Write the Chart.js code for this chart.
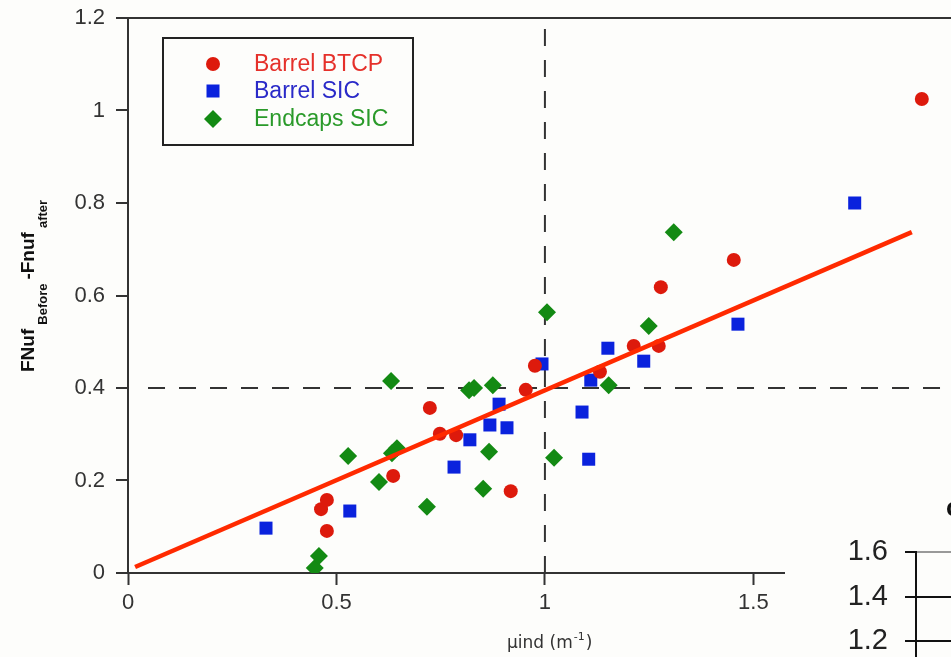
<!DOCTYPE html>
<html>
<head>
<meta charset="utf-8">
<script src="https://cdn.jsdelivr.net/npm/chart.js@4.4.0/dist/chart.umd.min.js"></script>
<style>
  html, body { margin: 0; padding: 0; background: #fdfdfb; overflow: hidden; }
  #wrap { position: relative; width: 951px; height: 657px; overflow: hidden; }
  #main { position: absolute; left: 0; top: 0; }
  #panelC { position: absolute; left: 785px; top: 480px; background: #fdfdfb; }
</style>
</head>
<body>
<div id="wrap">
  <canvas id="main" width="951" height="657"></canvas>
  <canvas id="panelC" width="400" height="260"></canvas>
</div>
<script>
// values
const btcpX = [0.463, 0.477, 0.477, 0.636, 0.724, 0.748, 0.787, 0.918, 0.954, 0.976, 1.132, 1.213, 1.273, 1.278, 1.453, 1.904]
const btcpY = [0.138, 0.158, 0.091, 0.210, 0.357, 0.301, 0.298, 0.177, 0.396, 0.448, 0.435, 0.491, 0.491, 0.618, 0.677, 1.025]

const sicX = [0.331, 0.532, 0.782, 0.820, 0.868, 0.890, 0.909, 0.993, 1.089, 1.105, 1.110, 1.151, 1.237, 1.463, 1.743]
const sicY = [0.097, 0.134, 0.229, 0.288, 0.320, 0.365, 0.314, 0.452, 0.348, 0.246, 0.417, 0.486, 0.458, 0.538, 0.800]

const endX = [0.448, 0.458, 0.528, 0.602, 0.631, 0.633, 0.645, 0.717, 0.818, 0.830, 0.852, 0.866, 0.875, 1.005, 1.022, 1.153, 1.249, 1.309]
const endY = [0.011, 0.037, 0.253, 0.197, 0.415, 0.259, 0.270, 0.143, 0.395, 0.400, 0.182, 0.262, 0.406, 0.564, 0.249, 0.406, 0.534, 0.737]

// fitted line end points
const fitX = [0.017, 1.88]
const fitY = [0.013, 0.737]

// dashed reference lines
const refX = 1
const refY = 0.4

const xTicks = [0, 0.5, 1, 1.5]
const yTicks = [0, 0.2, 0.4, 0.6, 0.8, 1, 1.2]
const panelCTicks = [1.2, 1.4, 1.6]

const X_MAX = 1.974
const FONT = '"Liberation Sans", Arial, sans-serif'

const toPts = (xs, ys) => xs.map((x, i) => ({ x: x, y: ys[i] }))

// keep chart area where we put it
const noPad = s => { s.paddingTop = 0; s.paddingBottom = 0; s.paddingLeft = 0; s.paddingRight = 0 }

// legend box + axis titles
const decor = {
  id: 'decor',
  afterDraw(chart) {
    const ctx = chart.ctx
    ctx.save()

    // legend
    ctx.lineWidth = 2
    ctx.strokeStyle = '#222'
    ctx.strokeRect(163, 38, 250, 107)
    const rows = [64, 91, 119]
    const items = chart.data.datasets.filter(d => d.inLegend)
    items.forEach((d, i) => {
      const y = rows[i]
      const x = 213
      ctx.fillStyle = d.backgroundColor
      ctx.beginPath()
      if (d.pointStyle === 'circle') {
        ctx.arc(x, y, 7, 0, Math.PI * 2)
      } else if (d.pointStyle === 'rect') {
        ctx.rect(x - 6.5, y - 6.5, 13, 13)
      } else {
        ctx.moveTo(x - 9, y); ctx.lineTo(x, y - 9); ctx.lineTo(x + 9, y); ctx.lineTo(x, y + 9); ctx.closePath()
      }
      ctx.fill()
      ctx.fillStyle = d.legendColor
      ctx.font = '23px ' + FONT
      ctx.textBaseline = 'middle'
      ctx.textAlign = 'left'
      ctx.fillText(d.label, 254, y + 1)
    })

    // x title
    ctx.fillStyle = '#333'
    ctx.textBaseline = 'alphabetic'
    ctx.font = '17px "DejaVu Sans", sans-serif'
    let xx = 507
    ctx.fillText('µind (m', xx, 648)
    xx += ctx.measureText('µind (m').width
    ctx.font = '11px "DejaVu Sans", sans-serif'
    ctx.fillText('-1', xx + 1, 640)
    xx += ctx.measureText('-1').width + 2
    ctx.font = '17px "DejaVu Sans", sans-serif'
    ctx.fillText(')', xx, 648)

    // y title, rotated
    ctx.translate(34, 372)
    ctx.rotate(-Math.PI / 2)
    ctx.fillStyle = '#111'
    let p = 0
    const parts = [
      ['FNuf', 'bold 19px ' + FONT, 0],
      ['Before', 'bold 13px ' + FONT, 13],
      ['-Fnuf', 'bold 19px ' + FONT, 0],
      ['after', 'bold 13px ' + FONT, 13]
    ]
    parts.forEach(([t, f, dy]) => {
      ctx.font = f
      ctx.fillText(t, p, dy)
      p += ctx.measureText(t).width + 4
    })
    ctx.restore()
  }
}

new Chart(document.getElementById('main').getContext('2d'), {
  type: 'scatter',
  data: {
    datasets: [
      {
        label: 'fit', data: toPts(fitX, fitY), showLine: true,
        borderColor: '#ff2a00', borderWidth: 4.5, pointRadius: 0, order: 0
      },
      {
        label: 'Barrel BTCP', inLegend: true, data: toPts(btcpX, btcpY),
        pointStyle: 'circle', pointRadius: 7, backgroundColor: '#dd1a0c', borderColor: '#dd1a0c',
        borderWidth: 0, legendColor: '#e5302a', order: 1
      },
      {
        label: 'Barrel SIC', inLegend: true, data: toPts(sicX, sicY),
        pointStyle: 'rect', pointRadius: 9.2, backgroundColor: '#0a22dd', borderColor: '#0a22dd',
        borderWidth: 0, legendColor: '#2a2ac8', order: 1
      },
      {
        label: 'Endcaps SIC', inLegend: true, data: toPts(endX, endY),
        pointStyle: 'rectRot', pointRadius: 9, backgroundColor: '#138a13', borderColor: '#138a13',
        borderWidth: 0, legendColor: '#2a9a2a', order: 1
      },
      {
        label: 'refX', data: [{ x: refX, y: 0 }, { x: refX, y: 1.2 }], showLine: true,
        borderColor: '#333', borderWidth: 2, borderDash: [17, 14], pointRadius: 0, order: 5
      },
      {
        label: 'refY', data: [{ x: 0.048, y: refY }, { x: X_MAX, y: refY }], showLine: true,
        borderColor: '#333', borderWidth: 2, borderDash: [17, 14], pointRadius: 0, order: 5
      }
    ]
  },
  options: {
    responsive: false,
    animation: false,
    layout: { autoPadding: false, padding: { top: 18, left: 0, right: 0, bottom: 0 } },
    plugins: { legend: { display: false }, tooltip: { enabled: false } },
    scales: {
      x: {
        type: 'linear', min: 0, max: X_MAX,
        afterBuildTicks: s => { s.ticks = xTicks.map(v => ({ value: v })) },
        afterFit: s => { s.height = 84; noPad(s) },
        ticks: { font: { family: FONT, size: 22 }, color: '#333', padding: 5, maxRotation: 0, callback: v => String(v) },
        grid: { drawOnChartArea: false, tickLength: 12, tickWidth: 2, tickColor: '#333' },
        border: { color: '#333', width: 2 }
      },
      y: {
        type: 'linear', min: 0, max: 1.2,
        afterBuildTicks: s => { s.ticks = yTicks.map(v => ({ value: v })) },
        afterFit: s => { s.width = 128; noPad(s) },
        ticks: { font: { family: FONT, size: 22 }, color: '#333', padding: 11, callback: v => String(v) },
        grid: {
          color: c => (c.tick && c.tick.value === 1.2) ? '#333' : 'rgba(0,0,0,0)',
          lineWidth: 2, tickLength: 12, tickWidth: 2, tickColor: '#333'
        },
        border: { color: '#333', width: 2 }
      }
    }
  },
  plugins: [decor]
})

// fragment of the neighbouring panel (c)
const panelLabel = {
  id: 'panelLabel',
  afterDraw(chart) {
    const ctx = chart.ctx
    ctx.save()
    ctx.fillStyle = '#111'
    ctx.font = 'bold 26px ' + FONT
    ctx.textBaseline = 'alphabetic'
    ctx.fillText('c)', 161, 36)
    ctx.restore()
  }
}

new Chart(document.getElementById('panelC').getContext('2d'), {
  type: 'scatter',
  data: { datasets: [{ label: 'c', data: [] }] },
  options: {
    responsive: false,
    animation: false,
    layout: { autoPadding: false, padding: { top: 72, left: 0, right: 0, bottom: 54.5 } },
    plugins: { legend: { display: false }, tooltip: { enabled: false } },
    scales: {
      x: { display: false, min: 0, max: 1 },
      y: {
        type: 'linear', min: 1.0, max: 1.6,
        afterBuildTicks: s => { s.ticks = panelCTicks.map(v => ({ value: v })) },
        afterFit: s => { s.width = 131; noPad(s) },
        ticks: { font: { family: FONT, size: 29 }, color: '#222', padding: 17, callback: v => v.toFixed(1) },
        grid: {
          color: c => (c.tick && c.tick.value === 1.6) ? '#999' : '#111',
          lineWidth: 2, tickLength: 11, tickWidth: 2, tickColor: '#111'
        },
        border: { color: '#111', width: 2 }
      }
    }
  },
  plugins: [panelLabel]
})
</script>
</body>
</html>
